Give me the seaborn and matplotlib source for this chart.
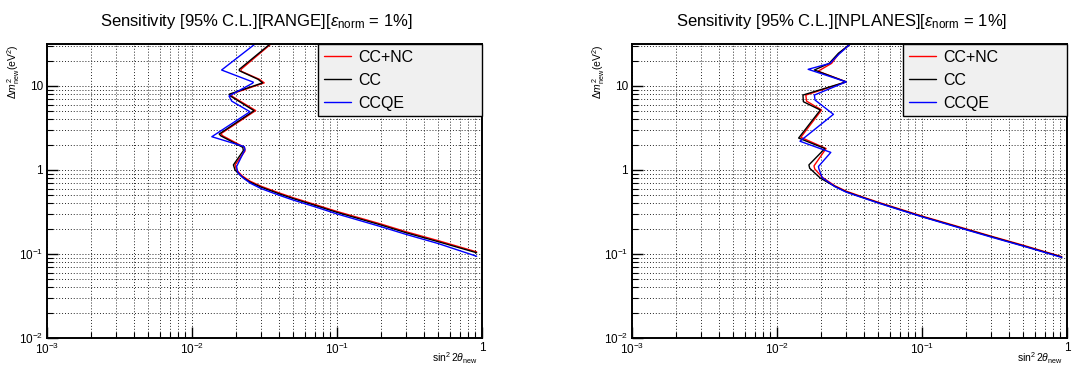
"""
Sensitivity contours (RANGE vs NPLANES) in ROOT-like style.
"""

import matplotlib

matplotlib.use("Agg")

import matplotlib.pyplot as plt
import pandas as pd
import seaborn as sns
from matplotlib.ticker import FixedFormatter, FixedLocator, LogLocator, NullFormatter

SERIES = ["CC+NC", "CC", "CCQE"]
PALETTE = {"CC+NC": "#ff0000", "CC": "#000000", "CCQE": "#0000ff"}

# RANGE panel
range_ccnc_x = [0.0350, 0.0218, 0.0218, 0.0292, 0.0315, 0.0186, 0.0190, 0.0275, 0.0158, 0.0163,
                0.0230, 0.0232, 0.0198, 0.0203, 0.0222, 0.0252, 0.030, 0.04, 0.05, 0.07,
                0.1, 0.2, 0.3, 0.5, 0.918]
range_ccnc_y = [31.6, 15.8, 15.0, 12.0, 10.9, 8.0, 7.5, 5.1, 2.7, 2.55,
                1.86, 1.68, 1.15, 1.0, 0.85, 0.735, 0.64, 0.533, 0.467, 0.39,
                0.321, 0.228, 0.184, 0.144, 0.106]
range_cc_x = [0.0345, 0.0212, 0.0212, 0.0286, 0.0307, 0.0181, 0.0184, 0.0268, 0.0154, 0.0158,
              0.0224, 0.0226, 0.0193, 0.0198, 0.022, 0.025, 0.030, 0.04, 0.05, 0.07,
              0.1, 0.2, 0.3, 0.5, 0.918]
range_cc_y = [31.6, 15.8, 15.2, 12.0, 10.9, 8.0, 7.6, 5.08, 2.68, 2.55,
              1.86, 1.70, 1.15, 1.0, 0.836, 0.721, 0.625, 0.52, 0.456, 0.381,
              0.313, 0.222, 0.179, 0.140, 0.1035]
range_ccqe_x = [0.0272, 0.0160, 0.0265, 0.0262, 0.0180, 0.0188, 0.0251, 0.0137, 0.0229, 0.0232,
                0.0203, 0.0207, 0.0228, 0.0255, 0.030, 0.04, 0.05, 0.07, 0.1, 0.2,
                0.3, 0.5, 0.918]
range_ccqe_y = [31.6, 15.5, 11.1, 10.8, 7.6, 6.6, 4.94, 2.49, 1.90, 1.75,
                1.10, 0.93, 0.79, 0.69, 0.6, 0.5, 0.438, 0.366, 0.300, 0.212,
                0.171, 0.133, 0.094]

# NPLANES panel
nplanes_ccnc_x = [0.0320, 0.0268, 0.0238, 0.0192, 0.0300, 0.0158, 0.0160, 0.0203, 0.0146,
                  0.0218, 0.0180, 0.0182, 0.0205, 0.025, 0.03, 0.04, 0.05, 0.07, 0.1,
                  0.2, 0.3, 0.5, 0.92]
nplanes_ccnc_y = [31.6, 24.5, 18.6, 15.0, 11.2, 7.8, 6.6, 5.18, 2.45,
                  1.8, 1.12, 1.03, 0.82, 0.65, 0.56, 0.47, 0.413, 0.344, 0.283,
                  0.2, 0.163, 0.127, 0.093]
nplanes_cc_x = [0.0320, 0.0265, 0.0229, 0.0181, 0.0300, 0.0151, 0.0152, 0.0199, 0.0141,
                0.0214, 0.0166, 0.0168, 0.0199, 0.025, 0.03, 0.04, 0.05, 0.07, 0.1,
                0.2, 0.3, 0.5, 0.92]
nplanes_cc_y = [31.6, 24.5, 18.6, 15.5, 11.2, 7.8, 6.5, 5.18, 2.4,
                1.8, 1.15, 1.05, 0.80, 0.64, 0.55, 0.464, 0.407, 0.339, 0.279,
                0.197, 0.161, 0.125, 0.092]
nplanes_ccqe_x = [0.0320, 0.0268, 0.0232, 0.0164, 0.0300, 0.0181, 0.0183, 0.0245, 0.0144,
                  0.0235, 0.0193, 0.0195, 0.0205, 0.025, 0.03, 0.04, 0.05, 0.07, 0.1,
                  0.2, 0.3, 0.5, 0.92]
nplanes_ccqe_y = [31.6, 24.0, 18.6, 15.8, 11.2, 7.8, 6.8, 4.6, 2.2,
                  1.62, 1.10, 1.02, 0.81, 0.635, 0.545, 0.46, 0.404, 0.336, 0.277,
                  0.195, 0.159, 0.124, 0.091]

X_TICKS = [1e-3, 1e-2, 1e-1, 1.0]
X_TICK_LABELS = [r"$10^{-3}$", r"$10^{-2}$", r"$10^{-1}$", "1"]
Y_TICKS = [1e-2, 1e-1, 1.0, 10.0]
Y_TICK_LABELS = [r"$10^{-2}$", r"$10^{-1}$", "1", "10"]


def make_frame(curves):
    rows = []
    for name, xs, ys in curves:
        for x, y in zip(xs, ys):
            rows.append({"series": name, "sin2": x, "dm2": y})
    return pd.DataFrame(rows)


def draw_panel(ax, frame, title):
    ax.set_xscale("log")
    ax.set_yscale("log")
    sns.lineplot(
        data=frame,
        x="sin2",
        y="dm2",
        hue="series",
        hue_order=SERIES,
        palette=PALETTE,
        sort=False,
        estimator=None,
        linewidth=1.0,
        ax=ax,
    )
    ax.set_xlim(1e-3, 1.0)
    ax.set_ylim(1e-2, 10 ** 1.5)

    ax.xaxis.set_major_locator(FixedLocator(X_TICKS))
    ax.xaxis.set_major_formatter(FixedFormatter(X_TICK_LABELS))
    ax.yaxis.set_major_locator(FixedLocator(Y_TICKS))
    ax.yaxis.set_major_formatter(FixedFormatter(Y_TICK_LABELS))
    ax.xaxis.set_minor_locator(LogLocator(base=10, subs=range(2, 10)))
    ax.yaxis.set_minor_locator(LogLocator(base=10, subs=range(2, 10)))
    ax.xaxis.set_minor_formatter(NullFormatter())
    ax.yaxis.set_minor_formatter(NullFormatter())

    ax.tick_params(which="major", direction="in", length=8, width=1, labelsize=8.5, pad=3,
                   bottom=True, left=True, top=False, right=False, colors="black")
    ax.tick_params(which="minor", direction="in", length=4, width=0.8,
                   bottom=True, left=True, top=False, right=False, colors="black")
    ax.grid(which="both", color="0.15", linestyle=(0, (1, 2)), linewidth=0.7)
    for spine in ax.spines.values():
        spine.set_linewidth(1.4)
        spine.set_color("black")

    ax.set_title(title, fontsize=12, x=0.482, pad=13)
    ax.set_xlabel(r"$\sin^{2}2\theta_{\rm new}$", fontsize=7.5, loc="right")
    ax.xaxis.set_label_coords(0.99, -0.043)
    ax.set_ylabel(r"$\Delta m^{2}_{\rm new}$(eV$^{2}$)", fontsize=7.5, loc="top")
    ax.yaxis.set_label_coords(-0.058, 1.0)

    handles, labels = ax.get_legend_handles_labels()
    legend = ax.legend(
        handles,
        labels,
        loc="upper left",
        bbox_to_anchor=(0.623, 0.0, 0.377, 1.0),
        mode="expand",
        borderaxespad=0,
        fontsize=11.5,
        frameon=True,
        fancybox=False,
        framealpha=1,
        facecolor="#f0f0f0",
        edgecolor="black",
        handlelength=1.7,
        handletextpad=0.45,
        labelspacing=0.5,
        borderpad=0.35,
    )
    legend.get_frame().set_linewidth(1.0)


sns.set_theme(style="white")
plt.rcParams["font.family"] = ["Liberation Sans", "DejaVu Sans"]
plt.rcParams["mathtext.fontset"] = "custom"
plt.rcParams["mathtext.rm"] = "Liberation Sans"
plt.rcParams["mathtext.it"] = "Liberation Sans:italic"
plt.rcParams["mathtext.bf"] = "Liberation Sans:bold"
plt.rcParams["text.color"] = "black"
plt.rcParams["axes.labelcolor"] = "black"

range_df = make_frame([
    ("CC+NC", range_ccnc_x, range_ccnc_y),
    ("CC", range_cc_x, range_cc_y),
    ("CCQE", range_ccqe_x, range_ccqe_y),
])
nplanes_df = make_frame([
    ("CC+NC", nplanes_ccnc_x, nplanes_ccnc_y),
    ("CC", nplanes_cc_x, nplanes_cc_y),
    ("CCQE", nplanes_ccqe_x, nplanes_ccqe_y),
])

fig = plt.figure(figsize=(10.75, 3.65), dpi=100)
fig.patch.set_facecolor("white")
ax_range = fig.add_axes([47 / 1075, 1 - 338 / 365, 435 / 1075, 294 / 365])
ax_nplanes = fig.add_axes([632 / 1075, 1 - 338 / 365, 435 / 1075, 294 / 365])

draw_panel(ax_range, range_df, r"Sensitivity [95% C.L.][RANGE][$\epsilon_{\rm norm}$ = 1%]")
draw_panel(ax_nplanes, nplanes_df, r"Sensitivity [95% C.L.][NPLANES][$\epsilon_{\rm norm}$ = 1%]")

fig.savefig("out.png", dpi=100, facecolor="white")
plt.close(fig)
